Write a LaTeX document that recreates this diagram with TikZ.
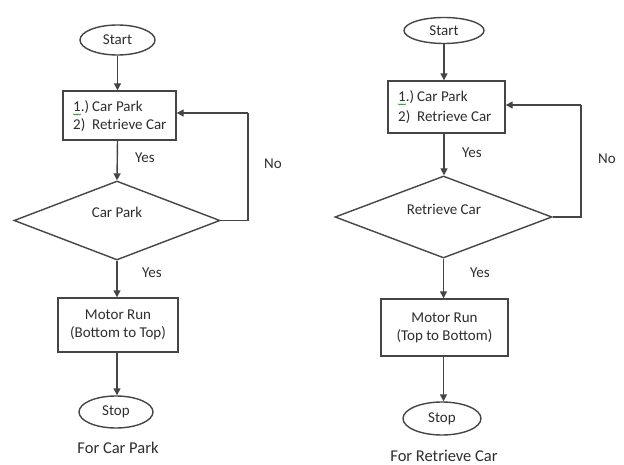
\documentclass[tikz,border=0pt]{standalone}
\usepackage{fontspec}
\setmainfont{Carlito}
\usetikzlibrary{shapes.geometric,arrows.meta,decorations.pathmorphing}
\definecolor{ln}{HTML}{454545}
\definecolor{tx}{HTML}{2E2E2E}
\tikzset{
  base/.style={draw=ln, line width=1.4pt, text=tx, font=\fontsize{15}{18}\selectfont, inner sep=2pt},
  term/.style={base, ellipse},
  procbox/.style={base, rectangle, align=center},
  decbox/.style={base, diamond},
  lbl/.style={text=tx, font=\fontsize{15}{18}\selectfont, inner sep=0pt},
  linetxt/.style={lbl, anchor=base west},
  captxt/.style={text=tx, font=\fontsize{16.5}{20}\selectfont, inner sep=0pt},
  conn/.style={draw=ln, line width=1.4pt, -{Triangle[length=7pt,width=7pt]}},
  loopline/.style={draw=ln, line width=1.4pt},
  squig/.style={draw=green!55!black, line width=0.5pt, decorate, decoration={snake, amplitude=0.6pt, segment length=2.2pt}}
}
\begin{document}
\begin{tikzpicture}[x=1pt,y=-1pt]
\useasboundingbox (0,0) rectangle (624,465);
\fill[white] (0,0) rectangle (624,465);

% ---------- left flowchart ----------
\node[term, minimum width=75pt, minimum height=30pt] (s1) at (117.5,40) {Start};
\node[procbox, minimum width=113pt, minimum height=49pt] (b1) at (119.5,115.5) {};
\node[linetxt] (b1n1) at (73,112) {1.)};
\node[linetxt] (b1t1) at (92,112) {Car Park};
\node[linetxt] (b1n2) at (73,130) {2)};
\node[linetxt] (b1t2) at (92,130) {Retrieve Car};
\node[decbox, minimum width=206pt, minimum height=79pt] (d1) at (117,220.5) {};
\node[lbl] (d1t) at (117,212) {Car Park};
\node[procbox, minimum width=120pt, minimum height=54pt] (m1) at (118,325) {Motor Run\\(Bottom to Top)};
\node[term, minimum width=74pt, minimum height=32pt] (e1) at (116,412) {Stop};
\node[captxt] (c1) at (118,448) {For Car Park};
\node[lbl] (y1a) at (145,158) {Yes};
\node[lbl] (y1b) at (152,273) {Yes};
\node[lbl] (n1) at (273,164) {No};
\coordinate (k1) at (248,113);

\draw[conn] (s1.south) -- (s1.south |- b1.north);
\draw[conn] (b1.south -| s1.south) -- (d1.north);
\draw[conn] (d1.south) -- (d1.south |- m1.north);
\draw[conn] (m1.south -| d1.south) -- (d1.south |- e1.north);
\draw[loopline] (d1.east) -| (k1);
\draw[conn] (k1) -- (k1 -| b1.east);
\draw[squig] ([yshift=-2.5pt]b1n1.base west) -- ++(8,0);

% ---------- right flowchart ----------
\node[term, minimum width=80pt, minimum height=26pt] (s2) at (444,30.5) {Start};
\node[procbox, minimum width=117pt, minimum height=52pt] (b2) at (446.5,107) {};
\node[linetxt] (b2n1) at (398,102) {1.)};
\node[linetxt] (b2t1) at (417,102) {Car Park};
\node[linetxt] (b2n2) at (398,121.5) {2)};
\node[linetxt] (b2t2) at (417,121.5) {Retrieve Car};
\node[decbox, minimum width=217pt, minimum height=82pt] (d2) at (443.5,217) {};
\node[lbl] (d2t) at (444,209) {Retrieve Car};
\node[procbox, minimum width=127pt, minimum height=57pt] (m2) at (444.5,327.5) {Motor Run\\(Top to Bottom)};
\node[term, minimum width=78pt, minimum height=33pt] (e2) at (442,418.5) {Stop};
\node[captxt] (c2) at (444,456) {For Retrieve Car};
\node[lbl] (y2a) at (472,153) {Yes};
\node[lbl] (y2b) at (480,273) {Yes};
\node[lbl] (n2) at (607,159) {No};
\coordinate (k2) at (581,105);

\draw[conn] (s2.south) -- (s2.south |- b2.north);
\draw[conn] (b2.south -| s2.south) -- (s2.south |- d2.north);
\draw[conn] (d2.south) -- (d2.south |- m2.north);
\draw[conn] (m2.south -| d2.south) -- (d2.south |- e2.north);
\draw[loopline] (d2.east) -| (k2);
\draw[conn] (k2) -- (k2 -| b2.east);
\draw[squig] ([yshift=-2.5pt]b2n1.base west) -- ++(8,0);
\end{tikzpicture}
\end{document}
